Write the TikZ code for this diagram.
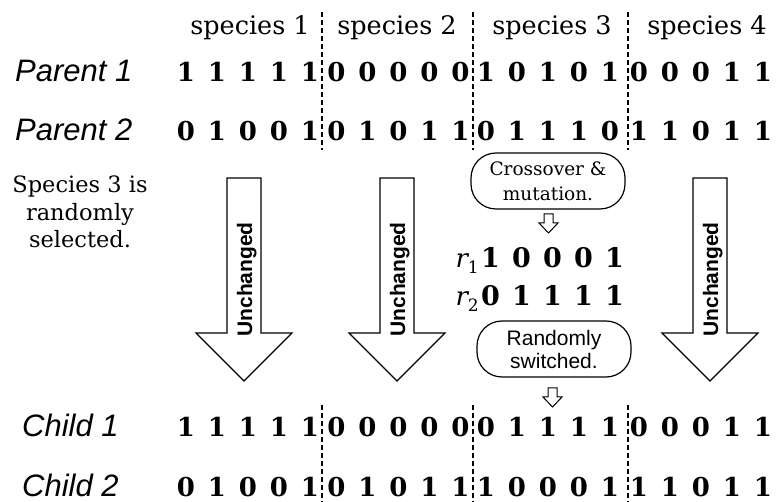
\documentclass[tikz,border=0pt]{standalone}
\usepackage{fontspec}
\newfontfamily\sansf{Liberation Sans}
\newfontfamily\slabf{DejaVu Serif}
% one chromosome block: five bits on a fixed pitch
\newcommand\bitbox[1]{\makebox[31pt]{#1}}
\newcommand\bits[5]{\bitbox{#1}\bitbox{#2}\bitbox{#3}\bitbox{#4}\bitbox{#5}}
% offspring label r with a lowered index
\newcommand\rlabel[1]{{\itshape r}\raisebox{-6pt}{\fontsize{17}{20}\selectfont #1}}
\tikzset{
  bitrow/.style={anchor=base, inner sep=0pt, font=\fontsize{26}{30}\selectfont\slabf\bfseries},
  rowlabel/.style={anchor=base west, inner sep=0pt, font=\fontsize{31}{36}\selectfont\sansf\itshape},
  header/.style={anchor=base, inner sep=0pt, font=\fontsize{25.5}{30}\selectfont\slabf},
  note/.style={anchor=base, inner sep=0pt, font=\fontsize{22.5}{27}\selectfont\slabf},
  rname/.style={anchor=base east, inner sep=0pt, font=\fontsize{26}{30}\selectfont\slabf},
  divider/.style={line width=1.3pt, dash pattern=on 5pt off 3pt},
  outline/.style={draw, line width=1.2pt, line join=miter, fill=white},
  stepbox/.style={draw, line width=1.2pt, rounded corners=25pt, minimum width=154pt,
    minimum height=56pt, align=center, inner sep=0pt},
  unch/.style={anchor=base, rotate=90, inner sep=0pt, font=\fontsize{21}{24}\selectfont\sansf\bfseries},
  bigarrow/.pic={\draw[outline] (-17,0) -- (17,0) -- (17,155) -- (48,155) -- (0,203)
    -- (-48,155) -- (-17,155) -- cycle;},
  smallarrow/.pic={\draw[outline, line width=1pt] (-4.5,0) -- (4.5,0) -- (4.5,9) -- (9.5,9) -- (0,19)
    -- (-9.5,9) -- (-4.5,9) -- cycle;},
}
\begin{document}
\begin{tikzpicture}[x=1pt, y=-1pt]
\fill[white] (0,0) rectangle (777,502);
\useasboundingbox (0,0) rectangle (777,502);

% species dividers
\foreach \dx in {322,473,628} {
  \draw[divider] (\dx,12) -- (\dx,150);
  \draw[divider] (\dx,405) -- (\dx,502);
}

% species headers
\node[header] (h1) at (250,35) {species 1};
\node[header] (h2) at (397,35) {species 2};
\node[header] (h3) at (552,35) {species 3};
\node[header] (h4) at (707,35) {species 4};

% parents
\node[rowlabel] (lp1) at (15,82) {Parent 1};
\node[bitrow] (p1a) at (248,82) {\bits11111};
\node[bitrow] (p1b) at (398.5,82) {\bits00000};
\node[bitrow] (p1c) at (548,82) {\bits10101};
\node[bitrow] (p1d) at (701,82) {\bits00011};

\node[rowlabel] (lp2) at (15,141) {Parent 2};
\node[bitrow] (p2a) at (248,141) {\bits01001};
\node[bitrow] (p2b) at (398.5,141) {\bits01011};
\node[bitrow] (p2c) at (548,141) {\bits01110};
\node[bitrow] (p2d) at (701,141) {\bits11011};

% selection note
\node[note] (sel1) at (80,193) {Species 3 is};
\node[note] (sel2) at (80,220.5) {randomly};
\node[note] (sel3) at (80,248) {selected.};

% unchanged species
\pic at (244,178) {bigarrow};
\pic at (397,178) {bigarrow};
\pic at (710,178) {bigarrow};
\node[unch] (u1) at (252,279.5) {Unchanged};
\node[unch] (u2) at (405,279.5) {Unchanged};
\node[unch] (u3) at (718,279.5) {Unchanged};

% operators on species 3
\node[stepbox, font=\fontsize{18.5}{25}\selectfont\slabf] (cross) at (548,181) {Crossover \&\\mutation.};
\pic at (548.5,214) {smallarrow};
\node[rname] (r1) at (479,268) {\rlabel{1}};
\node[bitrow, font=\fontsize{27}{34}\selectfont\slabf\bfseries] (r1b) at (552.5,268) {\bits10001};
\node[rname] (r2) at (479,306) {\rlabel{2}};
\node[bitrow, font=\fontsize{27}{34}\selectfont\slabf\bfseries] (r2b) at (552.5,306) {\bits01111};
\node[stepbox, font=\fontsize{21}{23}\selectfont\sansf] (switch) at (554,349) {Randomly\\switched.};
\pic at (552.5,388) {smallarrow};

% children
\node[rowlabel] (lc1) at (22,437) {Child 1};
\node[bitrow] (c1a) at (248,437) {\bits11111};
\node[bitrow] (c1b) at (398.5,437) {\bits00000};
\node[bitrow] (c1c) at (548,437) {\bits01111};
\node[bitrow] (c1d) at (701,437) {\bits00011};

\node[rowlabel] (lc2) at (22,497) {Child 2};
\node[bitrow] (c2a) at (248,497) {\bits01001};
\node[bitrow] (c2b) at (398.5,497) {\bits01011};
\node[bitrow] (c2c) at (548,497) {\bits10001};
\node[bitrow] (c2d) at (701,497) {\bits11011};
\end{tikzpicture}
\end{document}
